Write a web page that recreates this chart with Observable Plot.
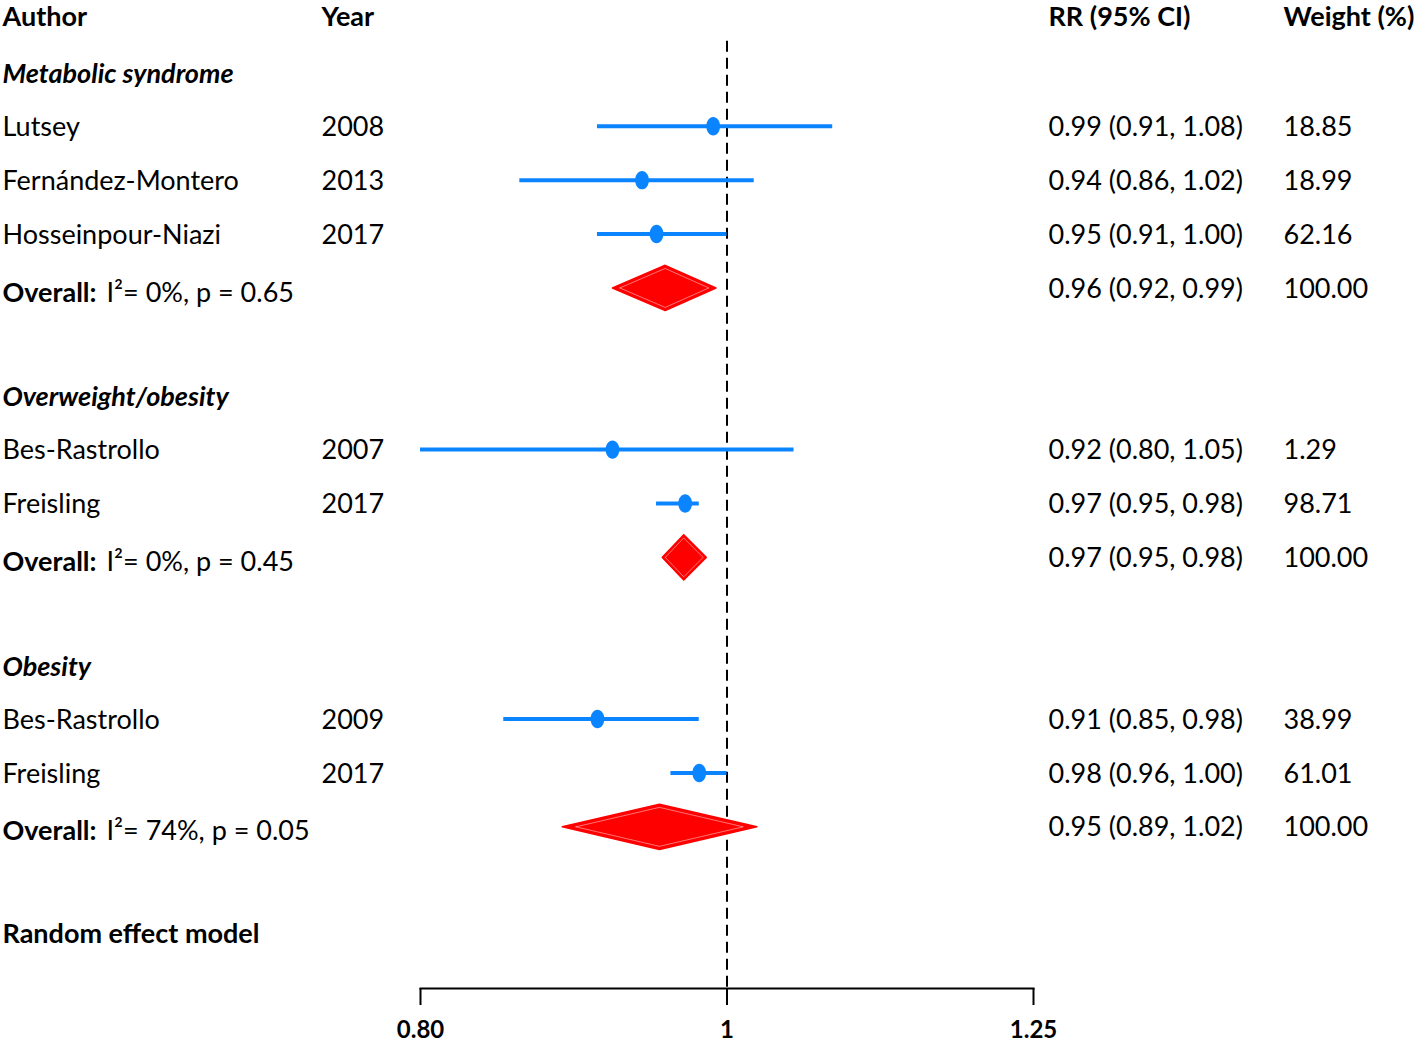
<!DOCTYPE html>
<html>
<head>
<meta charset="utf-8">
<script src="https://cdn.jsdelivr.net/npm/d3@7"></script>
<script src="https://cdn.jsdelivr.net/npm/@observablehq/plot@0.6"></script>
<style>
  html, body { margin: 0; padding: 0; background: #fff; }
  #chart svg { display: block; }
</style>
</head>
<body>
<div id="chart"></div>
<script>
// ---- data ----
const subgroups = ["Metabolic syndrome", "Overweight/obesity", "Obesity"];
const studyGroup = [0, 0, 0, 1, 1, 2, 2];
const authors = ["Lutsey", "Fernández-Montero", "Hosseinpour-Niazi", "Bes-Rastrollo", "Freisling", "Bes-Rastrollo", "Freisling"];
const years = ["2008", "2013", "2017", "2007", "2017", "2009", "2017"];
const rr = [0.99, 0.94, 0.95, 0.92, 0.97, 0.91, 0.98];
const rrLo = [0.91, 0.86, 0.91, 0.80, 0.95, 0.85, 0.96];
const rrHi = [1.08, 1.02, 1.00, 1.05, 0.98, 0.98, 1.00];
const ciLabels = ["0.99 (0.91, 1.08)", "0.94 (0.86, 1.02)", "0.95 (0.91, 1.00)", "0.92 (0.80, 1.05)", "0.97 (0.95, 0.98)", "0.91 (0.85, 0.98)", "0.98 (0.96, 1.00)"];
const weights = ["18.85", "18.99", "62.16", "1.29", "98.71", "38.99", "61.01"];
// pooled estimates (as drawn: unrounded)
const overallRR = [0.956, 0.969, 0.952];
const overallLo = [0.920, 0.954, 0.887];
const overallHi = [0.992, 0.985, 1.022];
const overallCiLabels = ["0.96 (0.92, 0.99)", "0.97 (0.95, 0.98)", "0.95 (0.89, 1.02)"];
const overallWeight = ["100.00", "100.00", "100.00"];
const overallI2 = ["0%", "0%", "74%"];
const overallP = ["0.65", "0.45", "0.05"];
const headerAuthor = "Author";
const headerYear = "Year";
const headerRR = "RR (95% CI)";
const headerWeight = "Weight (%)";
const axisTicks = [0.80, 1, 1.25];
const modelLabel = "Random effect model";

// ---- row layout (sequential row indices) ----
const studies = [], overall = [], groupRows = [];
let row = 1;
subgroups.forEach((g, gi) => {
  groupRows.push({label: g, row: row++});
  authors.forEach((a, i) => {
    if (studyGroup[i] !== gi) return;
    studies.push({author: a, year: years[i], rr: rr[i], lo: rrLo[i], hi: rrHi[i],
      ci: ciLabels[i], w: weights[i], row: row++});
  });
  overall.push({group: g, rr: overallRR[gi], lo: overallLo[gi], hi: overallHi[gi],
    ci: overallCiLabels[gi], w: overallWeight[gi],
    stat: `I\u00B2= ${overallI2[gi]}, p = ${overallP[gi]}`, row: row++});
  row++; // blank row
});
const modelRow = row;
const axisRow = row + 1;

const halfH = 0.42;
const diamondPts = (o, k) => {
  const lx = Math.exp(Math.log(o.rr) + (Math.log(o.lo) - Math.log(o.rr)) * k);
  const hx = Math.exp(Math.log(o.rr) + (Math.log(o.hi) - Math.log(o.rr)) * k);
  return [
    {group: o.group, x: lx, y: o.row},
    {group: o.group, x: o.rr, y: o.row - halfH * k},
    {group: o.group, x: hx, y: o.row},
    {group: o.group, x: o.rr, y: o.row + halfH * k},
    {group: o.group, x: lx, y: o.row}
  ];
};
const diamonds = overall.flatMap(o => diamondPts(o, 1));
const inner = overall.flatMap(o => diamondPts(o, 0.86));

// ellipse symbol
const ellipse = {
  draw(ctx, size) {
    const r = Math.sqrt(size / Math.PI);
    const rx = r * 0.8, ry = r * 1.07, k = 0.5523;
    ctx.moveTo(rx, 0);
    ctx.bezierCurveTo(rx, ry * k, rx * k, ry, 0, ry);
    ctx.bezierCurveTo(-rx * k, ry, -rx, ry * k, -rx, 0);
    ctx.bezierCurveTo(-rx, -ry * k, -rx * k, -ry, 0, -ry);
    ctx.bezierCurveTo(rx * k, -ry, rx, -ry * k, rx, 0);
    ctx.closePath();
  }
};

const blue = "#0A84FF";
const red = "#FF0000";
const fs = 27;

// column offsets relative to frame edges
const colAuthor = {frameAnchor: "left", dx: -418};
const colYear = {frameAnchor: "left", dx: -99};
const colRR = {frameAnchor: "right", dx: 15};
const colW = {frameAnchor: "right", dx: 250};

const chart = Plot.plot({
  width: 1418,
  height: 1044,
  marginLeft: 420,
  marginRight: 385,
  marginTop: 18,
  marginBottom: 56,
  style: {fontFamily: "Lato, 'Open Sans', sans-serif", fontSize: fs + "px", color: "#000", background: "#fff"},
  x: {type: "log", domain: [0.80, 1.25]},
  y: {domain: [0, axisRow], reverse: true, axis: null},
  marks: [
    // reference line at RR = 1
    Plot.ruleX([1], {y1: 0.42, y2: axisRow, stroke: "#000", strokeWidth: 2, strokeDasharray: "11,6"}),
    // axis line + ticks
    Plot.frame({anchor: "bottom", stroke: "#000", strokeWidth: 2}),
    Plot.axisX({ticks: axisTicks, tickFormat: d => d === 1 ? "1" : d.toFixed(2), tickSize: 17, tickPadding: 15,
      fontWeight: "bold", fontSize: 24, strokeWidth: 2, label: null}),
    // confidence intervals
    Plot.ruleY(studies, {y: "row", x1: "lo", x2: "hi", stroke: blue, strokeWidth: 4}),
    Plot.dot(studies, {y: "row", x: "rr", r: 8.6, symbol: ellipse, fill: blue, stroke: "none"}),
    // diamonds
    Plot.line(diamonds, {x: "x", y: "y", z: "group", fill: red, stroke: red, strokeWidth: 1.5, curve: "linear"}),
    Plot.line(inner, {x: "x", y: "y", z: "group", stroke: "#fff", strokeOpacity: 0.45, strokeWidth: 1, curve: "linear"}),
    // headers
    Plot.text([headerAuthor], {y: () => 0, text: d => d, textAnchor: "start", fontWeight: "bold", dy: -1, ...colAuthor}),
    Plot.text([headerYear], {y: () => 0, text: d => d, textAnchor: "start", fontWeight: "bold", dy: -1, ...colYear}),
    Plot.text([headerRR], {y: () => 0, text: d => d, textAnchor: "start", fontWeight: "bold", dy: -1, ...colRR}),
    Plot.text([headerWeight], {y: () => 0, text: d => d, textAnchor: "start", fontWeight: "bold", dy: -1, ...colW}),
    // subgroup titles
    Plot.text(groupRows, {y: "row", text: "label", textAnchor: "start", fontWeight: "bold", fontStyle: "italic", dy: 2, ...colAuthor}),
    // study text
    Plot.text(studies, {y: "row", text: "author", textAnchor: "start", dy: 1, ...colAuthor}),
    Plot.text(studies, {y: "row", text: "year", textAnchor: "start", dy: 1, ...colYear}),
    Plot.text(studies, {y: "row", text: "ci", textAnchor: "start", dy: 1, ...colRR}),
    Plot.text(studies, {y: "row", text: "w", textAnchor: "start", dy: 1, ...colW}),
    // overall text
    Plot.text(overall, {y: "row", text: () => "Overall:", textAnchor: "start", dy: 5, fontWeight: "bold", ...colAuthor}),
    Plot.text(overall, {y: "row", text: "stat", textAnchor: "start", frameAnchor: "left", dx: -314, dy: 5}),
    Plot.text(overall, {y: "row", text: "ci", textAnchor: "start", dy: 1, ...colRR}),
    Plot.text(overall, {y: "row", text: "w", textAnchor: "start", dy: 1, ...colW}),
    // model label
    Plot.text([modelLabel], {y: () => modelRow, text: d => d, textAnchor: "start", fontWeight: "bold", ...colAuthor})
  ]
});

document.getElementById("chart").append(chart);
</script>
</body>
</html>
